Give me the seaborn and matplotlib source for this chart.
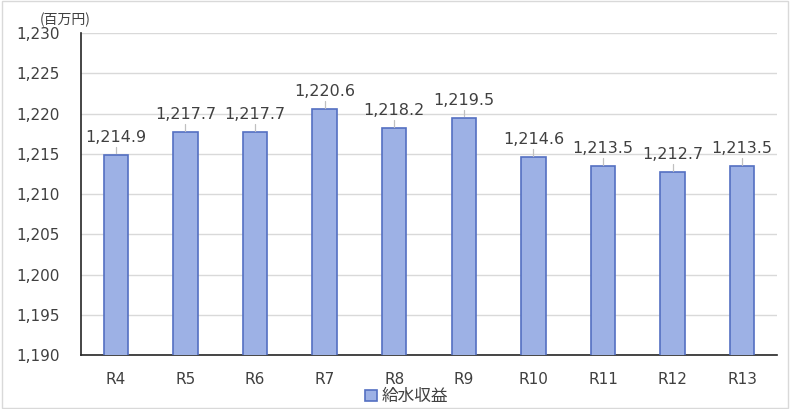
import matplotlib
matplotlib.use("Agg")
import matplotlib.pyplot as plt
import seaborn as sns
import pandas as pd
from matplotlib.patches import Rectangle

# 給水収益 (百万円) by fiscal year
years = ["R4", "R5", "R6", "R7", "R8", "R9", "R10", "R11", "R12", "R13"]
revenue = [1214.9, 1217.7, 1217.7, 1220.6, 1218.2, 1219.5, 1214.6, 1213.5, 1212.7, 1213.5]
y_ticks = [1190, 1195, 1200, 1205, 1210, 1215, 1220, 1225, 1230]

df = pd.DataFrame({"year": years, "revenue": revenue})

sns.set_theme(style="white")
plt.rcParams["font.family"] = ["DejaVu Sans", "Noto Sans CJK JP"]
cjk = ["Noto Sans CJK JP", "DejaVu Sans"]
text_color = "#404040"

fig = plt.figure(figsize=(7.9, 4.09), dpi=100)
ax = fig.add_axes([0.1025, 0.132, 0.881, 0.787])

bar_fill = "#9db1e5"
bar_edge = "#5470c2"
sns.barplot(data=df, x="year", y="revenue", ax=ax, color=bar_fill,
            width=0.35, saturation=1, edgecolor=bar_edge, linewidth=1.2,
            label="給水収益", zorder=3)

ax.set_ylim(1190, 1230)
ax.set_yticks(y_ticks)
ax.set_yticklabels([f"{v:,}" for v in y_ticks], fontsize=11, color=text_color)
ax.tick_params(axis="x", labelsize=11, colors=text_color, length=0, pad=12)
ax.tick_params(axis="y", length=0, pad=15)
ax.set_xlim(-0.5, len(years) - 0.5)
ax.set_xlabel("")
ax.set_ylabel("")

ax.grid(axis="y", color="#d9d9d9", linewidth=1, zorder=0)
for side in ("top", "right"):
    ax.spines[side].set_visible(False)
ax.spines["left"].set_color("#262626")
ax.spines["bottom"].set_color("#262626")
ax.spines["left"].set_linewidth(1.2)
ax.spines["bottom"].set_linewidth(1.2)

# value labels with short leader lines
for i, v in enumerate(revenue):
    ax.plot([i, i], [v + 0.15, v + 1.0], color="#c0c0c0", lw=0.9, zorder=4)
    ax.text(i, v + 1.25, f"{v:,.1f}", ha="center", va="bottom",
            fontsize=11.5, color=text_color, zorder=5)

# unit label
fig.text(0.05, 0.934, "(百万円)", fontsize=10, color=text_color,
         ha="left", va="bottom", family=cjk)

# legend below the category labels
handles, labels = ax.get_legend_handles_labels()
if ax.get_legend() is not None:
    ax.get_legend().remove()
leg = fig.legend(handles, labels, loc="center", bbox_to_anchor=(0.515, 0.03),
                 frameon=False, prop={"family": cjk, "size": 12},
                 handlelength=0.7, handleheight=0.7, handletextpad=0.3,
                 borderaxespad=0, borderpad=0)
for t in leg.get_texts():
    t.set_color(text_color)

# outer frame
fig.patches.append(Rectangle((0.003, 0.003), 0.994, 0.994, transform=fig.transFigure,
                             fill=False, edgecolor="#d9d9d9", linewidth=1))

fig.savefig("out.png", dpi=100)
